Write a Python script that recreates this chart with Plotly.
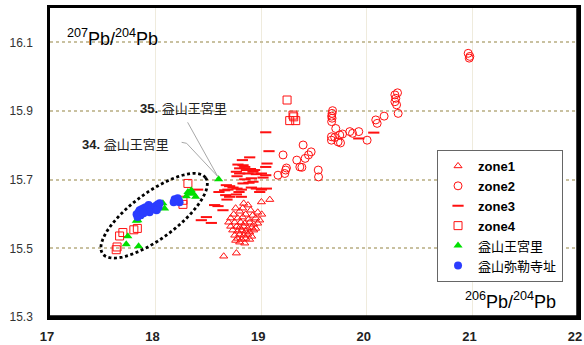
import numpy as np
import plotly.graph_objects as go

# Lead isotope ratios: x = 206Pb/204Pb, y = 207Pb/204Pb

zone1_x = [18.645, 18.765, 19.002, 19.081, 18.834, 18.875,
           18.758, 18.825, 18.796, 18.900, 18.967, 18.739, 18.853, 18.919, 19.005,
           18.711, 18.777, 18.825, 18.882, 18.948, 18.986,
           18.692, 18.749, 18.806, 18.844, 18.891, 18.929, 18.967,
           18.711, 18.768, 18.796, 18.834, 18.872, 18.910, 18.948,
           18.730, 18.777, 18.815, 18.853, 18.891, 18.929,
           18.749, 18.796, 18.834, 18.872, 18.910,
           18.777, 18.815, 18.853, 18.891,
           18.796, 18.844, 18.758]
zone1_y = [15.477, 15.486, 15.635, 15.642, 15.631, 15.626,
           15.617, 15.617, 15.608, 15.611, 15.605, 15.599, 15.599, 15.596, 15.599,
           15.588, 15.588, 15.591, 15.585, 15.588, 15.582,
           15.576, 15.576, 15.576, 15.573, 15.576, 15.570, 15.573,
           15.564, 15.564, 15.561, 15.564, 15.558, 15.561, 15.558,
           15.553, 15.550, 15.553, 15.550, 15.547, 15.553,
           15.538, 15.541, 15.538, 15.541, 15.535,
           15.529, 15.526, 15.529, 15.526,
           15.518, 15.515, 15.523]

zone2_x = [19.159, 19.223, 19.207, 19.239, 19.232, 19.337, 19.397, 19.366, 19.385,
           19.416, 19.448, 19.473, 19.540, 19.543, 19.676, 19.671, 19.667, 19.671,
           19.667, 19.706, 19.665, 19.665, 19.696, 19.744, 19.770, 19.728, 19.751,
           19.839, 19.865, 19.924, 20.003, 20.085, 20.098, 20.164, 20.266, 20.291,
           20.275, 20.266, 20.282, 20.297, 20.960, 20.976, 20.970]
zone2_y = [15.713, 15.718, 15.772, 15.734, 15.728, 15.757, 15.801, 15.737, 15.736,
           15.762, 15.772, 15.781, 15.728, 15.708, 15.901, 15.893, 15.885, 15.879,
           15.869, 15.849, 15.825, 15.815, 15.823, 15.830, 15.833, 15.810, 15.807,
           15.840, 15.835, 15.840, 15.815, 15.874, 15.864, 15.885, 15.947, 15.953,
           15.937, 15.927, 15.918, 15.893, 16.068, 16.059, 16.054]

zone3_x = [19.043, 19.074, 18.891, 18.822, 19.055, 19.043, 18.780, 18.828, 18.844,
           18.796, 18.860, 18.898, 18.938, 18.922, 18.875, 18.765, 18.796, 18.771,
           18.954, 19.002, 19.043, 19.017, 18.844, 18.907, 18.922, 18.884, 18.828,
           18.670, 18.701, 18.733, 18.685, 18.654, 18.771, 18.812, 18.790, 18.907,
           18.954, 19.002, 19.049, 18.986, 18.600, 18.664, 18.701, 18.676, 18.765,
           18.812, 18.638, 18.591, 18.559, 18.481, 18.528, 18.433, 18.398,
           19.924, 20.066]
zone3_y = [15.838, 15.783, 15.765, 15.757, 15.747, 15.737, 15.744, 15.742, 15.737,
           15.733, 15.728, 15.731, 15.728, 15.723, 15.718, 15.723, 15.718, 15.710,
           15.716, 15.718, 15.713, 15.706, 15.701, 15.704, 15.694, 15.691, 15.689,
           15.684, 15.681, 15.677, 15.671, 15.669, 15.674, 15.671, 15.664, 15.677,
           15.674, 15.671, 15.674, 15.664, 15.664, 15.655, 15.650, 15.642, 15.657,
           15.650, 15.611, 15.623, 15.626, 15.591, 15.574, 15.582, 15.671,
           15.820, 15.837]

zone4_x = [19.245, 19.301, 19.270, 19.327, 19.308, 18.306, 18.259, 18.259,
           17.827, 17.794, 17.690, 17.659, 17.635, 17.627]
zone4_y = [15.932, 15.888, 15.872, 15.872, 15.883, 15.689, 15.640, 15.628,
           15.558, 15.554, 15.546, 15.536, 15.504, 15.496]

# 益山王宮里 (first entry is sample no. 34/35)
wanggung_x = [18.597, 18.338, 18.306, 18.291, 18.354, 18.379, 18.322, 18.069,
              18.085, 18.007, 17.842, 17.832, 17.817, 17.737, 17.722, 17.839]
wanggung_y = [15.701, 15.669, 15.664, 15.652, 15.660, 15.650, 15.660, 15.631,
              15.616, 15.611, 15.591, 15.582, 15.580, 15.535, 15.512, 15.506]

# 益山弥勒寺址
mireuksa_x = [17.820, 17.839, 17.848, 17.867, 17.886, 17.905, 17.924, 17.943,
              17.896, 17.877, 17.915, 17.858, 17.829, 17.934, 17.962, 17.981,
              17.943, 17.886, 18.000, 18.019, 18.028, 18.009, 18.038, 18.180,
              18.199, 18.209, 18.227, 18.171, 18.218]
mireuksa_y = [15.599, 15.605, 15.611, 15.614, 15.617, 15.620, 15.620, 15.617,
              15.608, 15.605, 15.611, 15.596, 15.591, 15.626, 15.620, 15.614,
              15.605, 15.602, 15.623, 15.628, 15.620, 15.611, 15.631, 15.643,
              15.637, 15.646, 15.634, 15.634, 15.640]

x_ticks = [17, 18, 19, 20, 21, 22]
y_ticks = [15.3, 15.5, 15.7, 15.9, 16.1]

RED = "#ff1010"
CJK = "Liberation Sans, Noto Sans CJK KR, sans-serif"

fig = go.Figure()

def add(name, xs, ys, symbol, color, size, lw=1.0):
    fig.add_trace(go.Scatter(
        x=xs, y=ys, mode="markers", name=name,
        marker=dict(symbol=symbol, size=size, color=color,
                    line=dict(width=lw, color=color)),
    ))

add("<b>zone1</b>", zone1_x, zone1_y, "triangle-up-open", RED, 7)
add("<b>zone2</b>", zone2_x, zone2_y, "circle-open", RED, 8)
add("<b>zone3</b>", zone3_x, zone3_y, "line-ew", RED, 8, 2)
add("<b>zone4</b>", zone4_x, zone4_y, "square-open", RED, 8)
add("益山王宮里", wanggung_x, wanggung_y, "triangle-up", "#00e000", 8, 0)
add("益山弥勒寺址", mireuksa_x, mireuksa_y, "circle", "#2b3cff", 8, 0)

# dotted ellipse around the Iksan group (pixel units around its centre)
ell_cx, ell_cy = 17.986, 15.595
a_px, b_px, ang = 64.0, 23.0, np.deg2rad(36.5)
t = np.linspace(0, 2 * np.pi, 90)
u, v = a_px * np.cos(t), b_px * np.sin(t)
px = u * np.cos(ang) - v * np.sin(ang)
py = u * np.sin(ang) + v * np.cos(ang)
ell_path = "M " + " L ".join(f"{a:.2f},{b:.2f}" for a, b in zip(px, py)) + " Z"

shapes = [
    dict(type="path", path=ell_path, xref="x", yref="y",
         xsizemode="pixel", ysizemode="pixel", xanchor=ell_cx, yanchor=ell_cy,
         line=dict(color="black", width=2.8, dash="3px,2.6px")),
    # leader lines from the two labels to the marked sample
    dict(type="path", path="M -31,57 L -1,3", xref="x", yref="y",
         xsizemode="pixel", ysizemode="pixel",
         xanchor=wanggung_x[0], yanchor=wanggung_y[0],
         line=dict(color="#a8a8a8", width=1)),
    dict(type="path", path="M -37,37 L -32,36 L -1,3", xref="x", yref="y",
         xsizemode="pixel", ysizemode="pixel",
         xanchor=wanggung_x[0], yanchor=wanggung_y[0],
         line=dict(color="#a8a8a8", width=1)),
    # heavier right/bottom frame edge
    dict(type="path", path="M 1,0 L 1,1", xref="paper", yref="paper",
         line=dict(color="black", width=3.5)),
    dict(type="path", path="M 0,0 L 1,0", xref="paper", yref="paper",
         line=dict(color="black", width=3.5)),
]

annotations = [
    dict(x=wanggung_x[0], y=wanggung_y[0], xref="x", yref="y", showarrow=False,
         xshift=-35, yshift=71, text="<b>35.</b> 益山王宮里",
         font=dict(family=CJK, size=13, color="#222")),
    dict(x=wanggung_x[0], y=wanggung_y[0], xref="x", yref="y", showarrow=False,
         xshift=-93, yshift=35, text="<b>34.</b> 益山王宮里",
         font=dict(family=CJK, size=13, color="#222")),
    dict(x=0.028, y=0.906, xref="paper", yref="paper", xanchor="left", yanchor="middle",
         showarrow=False, text="<sup>207</sup>Pb/<sup>204</sup>Pb",
         font=dict(family="Liberation Sans", size=18, color="black")),
    dict(x=0.962, y=0.055, xref="paper", yref="paper", xanchor="right", yanchor="middle",
         showarrow=False, text="<sup>206</sup>Pb/<sup>204</sup>Pb",
         font=dict(family="Liberation Sans", size=18, color="black")),
]

fig.update_layout(
    width=584, height=345, autosize=False,
    margin=dict(l=50, r=6, t=8, b=28, autoexpand=False),
    paper_bgcolor="white", plot_bgcolor="white",
    shapes=shapes, annotations=annotations,
    showlegend=True,
    legend=dict(x=0.733, y=0.5405, xanchor="left", yanchor="top",
                bgcolor="white", bordercolor="#666", borderwidth=1,
                font=dict(family=CJK, size=13, color="black"),
                tracegroupgap=0),
)
fig.update_xaxes(
    range=[17, 22], tickvals=x_ticks, ticktext=[f"<b>{v}</b>" for v in x_ticks],
    showgrid=True, gridcolor="#efebdd", gridwidth=1, zeroline=False,
    showline=True, mirror=True, linecolor="black", linewidth=2.5,
    ticks="", ticklabelstandoff=6, ticklabelshift=-3, ticklabeloverflow="allow",
    automargin=False,
    tickfont=dict(family="Liberation Sans", size=13, color="#222"),
)
fig.update_yaxes(
    range=[15.3, 16.2], tickvals=y_ticks, ticktext=[f"{v:.1f}" for v in y_ticks],
    showgrid=True, gridcolor="#c9c1a0", gridwidth=1.5, griddash="dot", zeroline=False,
    showline=True, mirror=True, linecolor="black", linewidth=2.5,
    ticks="", ticklabelstandoff=12, automargin=False,
    tickfont=dict(family="Liberation Sans", size=12, color="#333"),
)

fig.write_html("out.html", config={"displayModeBar": False})
